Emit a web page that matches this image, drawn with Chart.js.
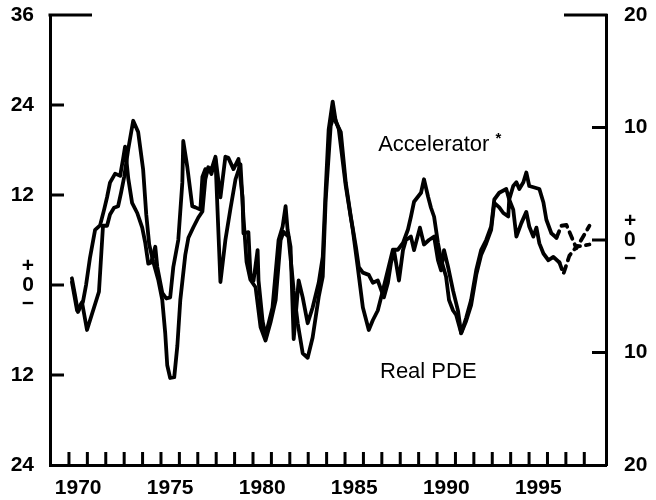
<!DOCTYPE html>
<html>
<head>
<meta charset="utf-8">
<script src="https://cdn.jsdelivr.net/npm/chart.js@4.4.1/dist/chart.umd.min.js"></script>
<style>
  html, body { margin: 0; padding: 0; background: #fff; }
  #wrap { position: relative; width: 656px; height: 500px; }
</style>
</head>
<body>
<div id="wrap"><canvas id="chart" width="656" height="500"></canvas></div>
<script>
// Real PDE, percent change (left axis)
const pdeYears = [
  1970.16, 1970.44, 1970.71, 1970.98, 1971.63, 1971.85, 1972.07, 1972.23, 1972.45, 1972.67,
  1972.83, 1973.00, 1973.22, 1973.49, 1973.76, 1974.03, 1974.20, 1974.36, 1974.58, 1974.85,
  1975.07, 1975.23, 1975.34, 1975.50, 1975.72, 1975.89, 1976.05, 1976.32, 1976.49, 1976.76,
  1977.03, 1977.25, 1977.41, 1977.57, 1977.74, 1977.96, 1978.23, 1978.50, 1978.77, 1979.05,
  1979.32, 1979.48, 1979.65, 1979.86, 1980.14, 1980.41, 1980.68, 1980.95, 1981.23, 1981.50,
  1981.66, 1981.93, 1982.21, 1982.43, 1982.70, 1982.97, 1983.24, 1983.57, 1983.79, 1983.95,
  1984.22, 1984.39, 1984.66, 1985.04, 1985.42, 1985.69, 1985.97, 1986.29, 1986.51, 1986.78,
  1987.06, 1987.33, 1987.60, 1987.87, 1988.15, 1988.42, 1988.58, 1988.75, 1989.13, 1989.29,
  1989.51, 1989.67, 1989.84, 1990.05, 1990.22, 1990.49, 1990.65, 1990.87, 1991.04, 1991.31,
  1991.58, 1991.85, 1992.13, 1992.40, 1992.67, 1992.94, 1993.11, 1993.38, 1993.76, 1993.92,
  1994.14, 1994.31, 1994.47, 1994.69, 1994.85, 1995.01, 1995.29, 1995.56, 1995.78, 1995.94,
  1996.21, 1996.49
];
const pdeValues = [
  0.4, -3.4, -2.3, -6.0, -0.9, 7.9, 7.9, 9.4, 10.3, 10.5,
  12.3, 14.4, 18.1, 21.9, 20.4, 15.4, 9.4, 5.4, 3.1, 0.7,
  -2.0, -6.4, -10.7, -12.4, -12.3, -8.1, -2.0, 4.0, 6.3, 7.7,
  9.0, 9.8, 14.1, 15.7, 14.8, 16.8, 0.4, 6.0, 10.1, 14.1,
  16.1, 9.1, 3.1, 0.7, -0.3, -5.6, -7.4, -5.0, -2.0, 6.0,
  7.1, 6.4, -0.7, -5.1, -9.1, -9.7, -7.0, -1.6, 1.1, 11.4,
  21.2, 22.6, 20.8, 13.2, 7.4, 2.4, -3.0, -6.0, -4.7, -3.4,
  -0.7, 2.0, 4.7, 4.7, 5.6, 7.4, 9.1, 11.1, 12.3, 14.1,
  11.8, 10.3, 9.1, 5.6, 3.4, 1.1, -2.0, -3.4, -4.0, -6.4,
  -4.4, -2.0, 2.0, 4.7, 6.0, 7.8, 11.4, 12.3, 12.8, 11.4,
  13.2, 13.7, 12.8, 13.7, 15.0, 13.2, 13.0, 12.8, 11.0, 8.7,
  6.9, 6.3
];
const pdeProjYears = [1996.49, 1996.76, 1997.03, 1997.57, 1998.28];
const pdeProjValues = [6.3, 7.9, 8.0, 4.9, 7.9];

// Accelerator (right axis)
const accelYears = [
  1970.16, 1970.33, 1970.49, 1970.76, 1970.93, 1971.14, 1971.42, 1971.69, 1971.91, 1972.07,
  1972.23, 1972.51, 1972.78, 1972.94, 1973.05, 1973.22, 1973.43, 1973.71, 1973.98, 1974.14,
  1974.31, 1974.47, 1974.69, 1974.80, 1975.07, 1975.29, 1975.50, 1975.67, 1975.94, 1976.16,
  1976.21, 1976.43, 1976.70, 1976.87, 1977.14, 1977.25, 1977.41, 1977.57, 1977.79, 1977.96,
  1978.23, 1978.50, 1978.66, 1978.94, 1979.21, 1979.43, 1979.48, 1979.75, 1979.86, 1980.03,
  1980.25, 1980.30, 1980.52, 1980.68, 1981.06, 1981.39, 1981.61, 1981.77, 1981.88, 1982.04,
  1982.21, 1982.48, 1982.70, 1982.97, 1983.24, 1983.57, 1983.79, 1983.95, 1984.11, 1984.33,
  1984.50, 1984.77, 1985.04, 1985.31, 1985.59, 1985.75, 1985.97, 1986.29, 1986.51, 1986.78,
  1987.11, 1987.33, 1987.49, 1987.66, 1987.93, 1988.15, 1988.31, 1988.58, 1988.75, 1989.07,
  1989.29, 1989.56, 1989.84, 1990.05, 1990.22, 1990.38, 1990.60, 1990.87, 1991.14, 1991.31,
  1991.58, 1991.85, 1992.13, 1992.40, 1992.67, 1992.94, 1993.11, 1993.38, 1993.60, 1993.87,
  1993.92, 1994.14, 1994.31, 1994.58, 1994.85, 1995.01, 1995.23, 1995.40, 1995.56, 1995.78,
  1996.05, 1996.32, 1996.65
];
const accelValues = [
  -3.4, -4.9, -6.4, -5.5, -4.0, -1.6, 0.9, 1.3, 2.7, 3.8,
  5.1, 5.9, 5.7, 7.2, 8.3, 5.5, 3.3, 2.4, 1.1, -0.2,
  -2.1, -2.0, -0.6, -2.4, -4.7, -5.2, -5.1, -2.4, 0.0, 5.1,
  8.8, 6.5, 3.0, 2.9, 2.7, 5.6, 6.3, 6.1, 6.5, 7.4,
  3.8, 7.4, 7.3, 6.3, 7.2, 3.8, 0.6, 0.7, -3.0, -3.6,
  -0.9, -3.6, -7.2, -8.5, -6.0, 0.0, 1.2, 3.0, 0.9, -0.6,
  -8.8, -3.6, -5.1, -7.4, -6.0, -3.8, -1.5, 4.5, 9.8, 12.3,
  10.5, 9.6, 5.1, 2.1, -0.6, -2.4, -2.9, -3.1, -3.8, -3.6,
  -5.1, -3.8, -2.1, -0.9, -3.6, -0.9, 0.0, 0.3, -0.9, 1.1,
  -0.4, 0.0, 0.3, -1.8, -2.7, -0.9, -2.4, -4.5, -6.3, -8.3,
  -7.2, -5.8, -3.1, -1.3, -0.3, 0.9, 3.3, 2.9, 2.4, 2.1,
  3.6, 2.7, 0.3, 1.5, 2.5, 1.2, 0.3, 1.1, -0.3, -1.2,
  -1.8, -1.5, -2.0
];
const accelProjYears = [1996.65, 1996.87, 1997.19, 1997.57, 1998.28];
const accelProjValues = [-2.0, -3.0, -1.4, -0.6, -0.4];

const xLabelYears = [1970, 1975, 1980, 1985, 1990, 1995];
const leftTicks = [36, 24, 12, 0, -12, -24];
const rightTicks = [20, 10, 0, -10, -20];

const fontFamily = '"Liberation Sans", Arial, Helvetica, sans-serif';

function toPoints(years, values) {
  return years.map((year, i) => ({ x: year, y: values[i] }));
}

function lineDataset(years, values, axisId, dashed) {
  return {
    data: toPoints(years, values),
    yAxisID: axisId,
    borderColor: '#000',
    borderWidth: 3.8,
    borderDash: dashed ? [7, 6] : [],
    borderJoinStyle: 'round',
    borderCapStyle: 'round',
    pointRadius: 0,
    tension: 0,
    fill: false,
  };
}

// the y axes should not push the plot down for their top/bottom labels
function fixAxisWidth(axis) {
  axis.width = 50;
  axis.paddingTop = 0;
  axis.paddingBottom = 0;
}

// inward tick marks, the short top corners of the frame and the two line labels
const frameAndLabels = {
  id: 'frameAndLabels',
  afterDraw(chart) {
    const { ctx, chartArea, scales } = chart;
    const xScale = scales.x;
    const left = scales.yLeft;
    const right = scales.yRight;
    ctx.save();
    ctx.strokeStyle = '#000';
    ctx.lineWidth = 3;
    ctx.beginPath();
    ctx.moveTo(chartArea.left - 1.5, chartArea.top);
    ctx.lineTo(chartArea.left + 42, chartArea.top);
    ctx.moveTo(chartArea.right - 42, chartArea.top);
    ctx.lineTo(chartArea.right + 1.5, chartArea.top);
    for (const v of [24, 12, 0, -12]) {
      const y = left.getPixelForValue(v);
      ctx.moveTo(chartArea.left, y);
      ctx.lineTo(chartArea.left + 14, y);
    }
    for (const v of [10, 0, -10]) {
      const y = right.getPixelForValue(v);
      ctx.moveTo(chartArea.right, y);
      ctx.lineTo(chartArea.right - 14, y);
    }
    for (let year = 1970; year <= 1998; year++) {
      const x = xScale.getPixelForValue(year);
      ctx.moveTo(x, chartArea.bottom);
      ctx.lineTo(x, chartArea.bottom - 13);
    }
    ctx.stroke();

    ctx.fillStyle = '#000';
    ctx.textBaseline = 'middle';
    ctx.textAlign = 'left';
    ctx.font = '22px ' + fontFamily;
    const ax = xScale.getPixelForValue(1986.8);
    const ay = left.getPixelForValue(18.7);
    ctx.fillText('Accelerator', ax, ay);
    const w = ctx.measureText('Accelerator ').width;
    ctx.font = 'bold 15px ' + fontFamily;
    ctx.fillText('*', ax + w, ay - 6);
    ctx.font = '22px ' + fontFamily;
    ctx.fillText('Real PDE', xScale.getPixelForValue(1986.9), left.getPixelForValue(-11.6));
    ctx.restore();
  },
};

const tickFont = { family: fontFamily, size: 21, weight: 'bold', lineHeight: 0.9 };

new Chart(document.getElementById('chart'), {
  type: 'line',
  data: {
    datasets: [
      lineDataset(pdeYears, pdeValues, 'yLeft', false),
      lineDataset(pdeProjYears, pdeProjValues, 'yLeft', true),
      lineDataset(accelYears, accelValues, 'yRight', false),
      lineDataset(accelProjYears, accelProjValues, 'yRight', true),
    ],
  },
  options: {
    responsive: false,
    animation: false,
    layout: { padding: { top: 15, left: 0, right: 0, bottom: 0 } },
    plugins: { legend: { display: false }, tooltip: { enabled: false } },
    scales: {
      x: {
        type: 'linear',
        min: 1968.97,
        max: 1999.18,
        afterBuildTicks: (axis) => {
          axis.ticks = xLabelYears.map((year) => ({ value: year + 0.5 }));
        },
        afterFit: (axis) => {
          axis.height = 35;
          axis.paddingLeft = 0;
          axis.paddingRight = 0;
        },
        ticks: {
          callback: (v) => String(Math.floor(v)),
          font: tickFont,
          color: '#000',
          padding: 14,
          maxRotation: 0,
          autoSkip: false,
        },
        grid: { display: false, drawTicks: false },
        border: { display: true, color: '#000', width: 3 },
      },
      yLeft: {
        position: 'left',
        min: -24,
        max: 36,
        afterBuildTicks: (axis) => {
          axis.ticks = leftTicks.map((v) => ({ value: v }));
        },
        afterFit: fixAxisWidth,
        ticks: {
          callback: (v) => (v === 0 ? ['+', '0', '\u2212'] : String(Math.abs(v))),
          font: tickFont,
          color: '#000',
          padding: 16,
        },
        grid: { display: false, drawTicks: false },
        border: { display: true, color: '#000', width: 3 },
      },
      yRight: {
        position: 'right',
        min: -20,
        max: 20,
        afterBuildTicks: (axis) => {
          axis.ticks = rightTicks.map((v) => ({ value: v }));
        },
        afterFit: fixAxisWidth,
        ticks: {
          callback: (v) => (v === 0 ? ['+', '0', '\u2212'] : String(Math.abs(v))),
          font: tickFont,
          color: '#000',
          padding: 18,
        },
        grid: { display: false, drawTicks: false },
        border: { display: true, color: '#000', width: 3 },
      },
    },
  },
  plugins: [frameAndLabels],
});
</script>
</body>
</html>
